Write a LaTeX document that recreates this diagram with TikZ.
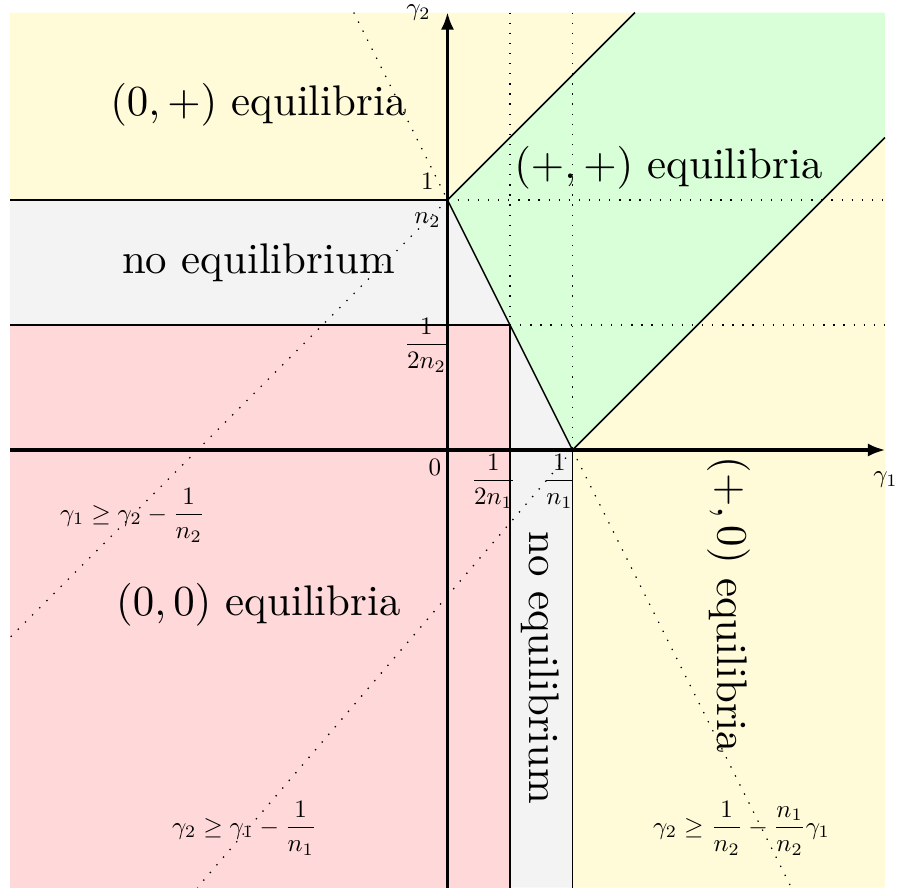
\documentclass[tikz,border=0pt]{standalone}
\usepackage{amsmath}
\usetikzlibrary{arrows.meta}
\definecolor{regyellow}{RGB}{255,251,217}
\definecolor{reggreen}{RGB}{216,255,216}
\definecolor{regred}{RGB}{255,217,217}
\definecolor{reggray}{RGB}{243,243,243}
\begin{document}
\begin{tikzpicture}[x=1cm,y=1cm,
  bound/.style={line width=0.35pt},
  guide/.style={dotted, line width=0.3pt},
  axisline/.style={line width=0.9pt,-{Latex[length=4pt,width=3pt]}},
  bigtext/.style={font=\normalsize, scale=0.975, inner sep=0pt},
  smalltext/.style={font=\normalsize, scale=0.57, inner sep=0pt}]
\useasboundingbox (-3.58,-3.52) rectangle (3.612,3.6);
\coordinate (O) at (0,0);
\coordinate (A) at (0,2);
\coordinate (B) at (1,0);
\coordinate (C) at (0.5,1);
% fills
\fill[regred] (-3.5,-3.5) rectangle (C);
\fill[reggray] (-3.5,1) -- (-3.5,2) -- (A) -- (B) -- (1,-3.5) -- (0.5,-3.5) -- (C) -- cycle;
\fill[regyellow] (-3.5,2) -- (-3.5,3.5) -- (1.5,3.5) -- (A) -- cycle;
\fill[regyellow] (B) -- (3.5,2.5) -- (3.5,-3.5) -- (1,-3.5) -- cycle;
\fill[reggreen] (A) -- (1.5,3.5) -- (3.5,3.5) -- (3.5,2.5) -- (B) -- cycle;
% guides
\draw[guide] (0.5,3.5) -- (C);
\draw[guide] (1,3.5) -- (B);
\draw[guide] (A) -- (3.5,2);
\draw[guide] (C) -- (3.5,1);
\draw[guide] (-0.75,3.5) -- (A);
\draw[guide] (B) -- (2.75,-3.5);
\draw[guide] (A) -- (-3.5,-1.5);
\draw[guide] (B) -- (-2,-3.5);
% boundaries
\draw[bound] (-3.5,2) -- (A);
\draw[bound] (-3.5,1) -- (C) -- (0.5,-3.5);
\draw[bound] (B) -- (1,-3.5);
\draw[bound] (A) -- (B);
\draw[bound] (A) -- (1.5,3.5);
\draw[bound] (B) -- (3.5,2.5);
% axes
\draw[axisline] (-3.5,0) -- (3.504,0);
\draw[axisline] (0,-3.5) -- (0,3.504);
\node[smalltext] (g1) at (3.504,-0.24) {$\gamma_1$};
\node[smalltext] (g2) at (-0.232,3.496) {$\gamma_2$};
% ticks
\node[smalltext] (t0) at (-0.1,-0.136) {$0$};
\node[smalltext] (tn1h) at (0.368,-0.248) {$\dfrac{1}{2n_1}$};
\node[smalltext] (tn1) at (0.896,-0.248) {$\dfrac{1}{n_1}$};
\node[smalltext] (tn2) at (-0.16,2.0) {$\dfrac{1}{n_2}$};
\node[smalltext] (tn2h) at (-0.168,0.84) {$\dfrac{1}{2n_2}$};
% region labels
\node[bigtext] (r0p) at (-1.512,2.76) {$(0,+)$ equilibria};
\node[bigtext] (rpp) at (1.768,2.26) {$(+,+)$ equilibria};
\node[bigtext] (rne1) at (-1.512,1.496) {no equilibrium};
\node[bigtext] (r00) at (-1.512,-1.24) {$(0,0)$ equilibria};
\node[bigtext, rotate=-90] (rne2) at (0.744,-1.744) {no equilibrium};
\node[bigtext, rotate=-90] (rp0) at (2.248,-1.24) {$(+,0)$ equilibria};
% conditions
\node[smalltext] (c1) at (-2.52,-0.52) {$\gamma_1 \geq \gamma_2 - \dfrac{1}{n_2}$};
\node[smalltext] (c2) at (-1.624,-3.024) {$\gamma_2 \geq \gamma_1 - \dfrac{1}{n_1}$};
\node[smalltext] (c3) at (2.352,-3.024) {$\gamma_2 \geq \dfrac{1}{n_2} - \dfrac{n_1}{n_2}\gamma_1$};
\end{tikzpicture}
\end{document}
